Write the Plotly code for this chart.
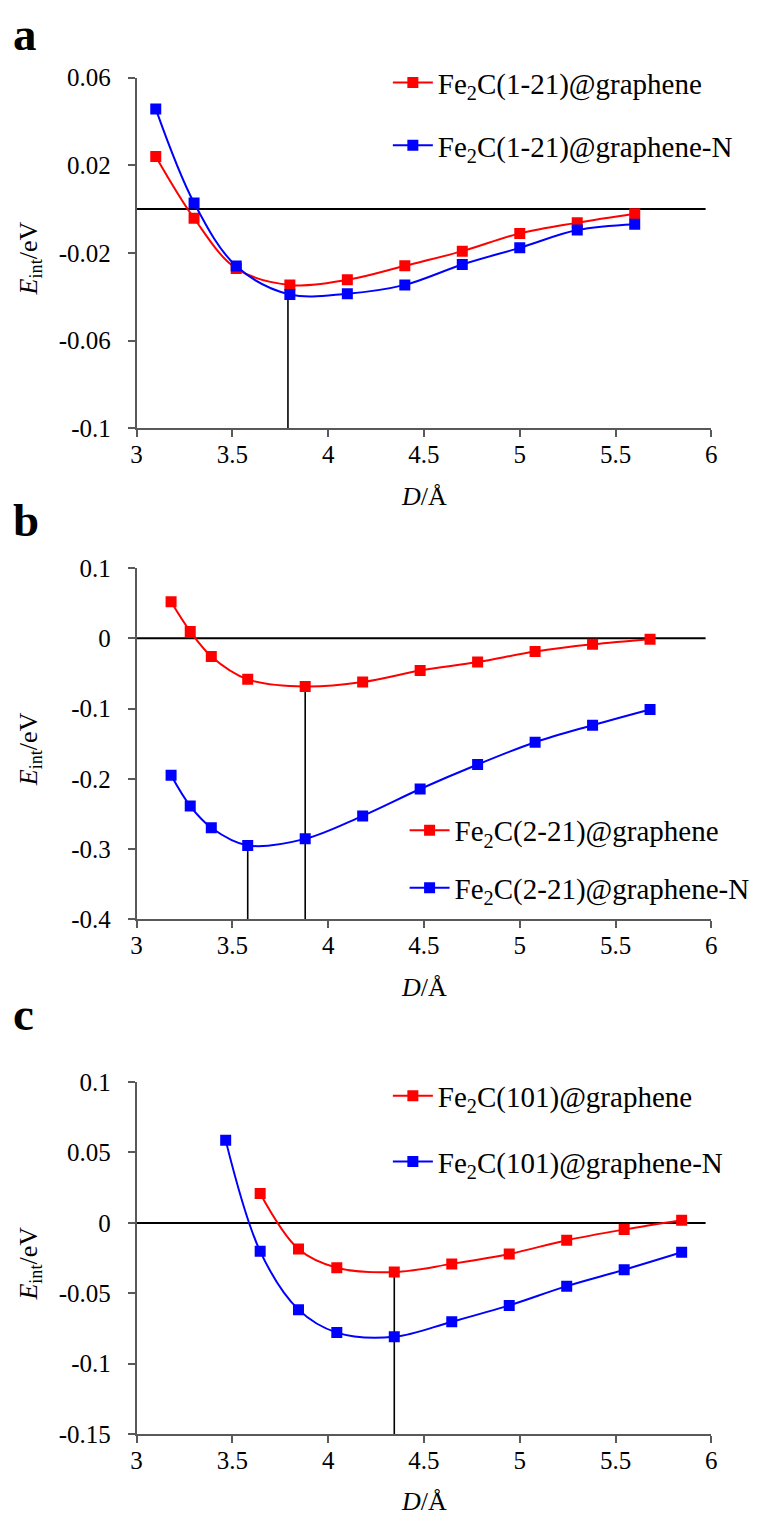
import plotly.graph_objects as go

# ---------------- data ----------------
# panel a
a_x = [3.1, 3.3, 3.52, 3.8, 4.1, 4.4, 4.7, 5.0, 5.3, 5.6]
a_red = [0.024, -0.0042, -0.0271, -0.0346, -0.0323, -0.0259, -0.0192, -0.0111, -0.0062, -0.0021]
a_blue = [0.0457, 0.0028, -0.0260, -0.0390, -0.0386, -0.0346, -0.0253, -0.0177, -0.0096, -0.0069]
a_names = ["Fe<sub>2</sub>C(1-21)@graphene", "Fe<sub>2</sub>C(1-21)@graphene-N"]
a_vline_x = [3.79]
a_vline_top = [-0.037]

# panel b
b_x = [3.18, 3.28, 3.39, 3.58, 3.88, 4.18, 4.48, 4.78, 5.08, 5.38, 5.68]
b_red = [0.052, 0.0098, -0.0258, -0.0584, -0.0687, -0.0622, -0.0459, -0.0338, -0.0189, -0.0086, -0.0012]
b_blue = [-0.195, -0.2388, -0.2695, -0.2947, -0.2854, -0.2527, -0.2145, -0.1796, -0.1479, -0.1237, -0.1013]
b_names = ["Fe<sub>2</sub>C(2-21)@graphene", "Fe<sub>2</sub>C(2-21)@graphene-N"]
b_vline_x = [3.58, 3.88]
b_vline_top = [-0.296, -0.069]

# panel c
c_red_x = [3.645, 3.845, 4.045, 4.345, 4.645, 4.945, 5.245, 5.545, 5.845]
c_red = [0.0209, -0.0186, -0.0319, -0.0349, -0.0291, -0.0221, -0.0123, -0.0047, 0.0019]
c_blue_x = [3.465, 3.645, 3.845, 4.045, 4.345, 4.645, 4.945, 5.245, 5.545, 5.845]
c_blue = [0.0586, -0.0202, -0.0616, -0.0779, -0.0809, -0.0702, -0.0586, -0.0449, -0.0333, -0.0209]
c_names = ["Fe<sub>2</sub>C(101)@graphene", "Fe<sub>2</sub>C(101)@graphene-N"]
c_vline_x = [4.345]
c_vline_top = [-0.0365]

x_ticks = [3, 3.5, 4, 4.5, 5, 5.5, 6]
x_ticktext = ["3", "3.5", "4", "4.5", "5", "5.5", "6"]
a_yticks = [0.06, 0.02, -0.02, -0.06, -0.1]
a_yticktext = ["0.06", "0.02", "-0.02", "-0.06", "-0.1"]
b_yticks = [0.1, 0, -0.1, -0.2, -0.3, -0.4]
b_yticktext = ["0.1", "0", "-0.1", "-0.2", "-0.3", "-0.4"]
c_yticks = [0.1, 0.05, 0, -0.05, -0.1, -0.15]
c_yticktext = ["0.1", "0.05", "0", "-0.05", "-0.1", "-0.15"]
a_yrange = [-0.1, 0.06]
b_yrange = [-0.4, 0.1]
c_yrange = [-0.15, 0.1]
zero_x = [3, 5.97]
zero_y = [0, 0]

# ---------------- layout helpers ----------------
W, H = 758, 1528
FONT = "'Liberation Serif', 'Times New Roman', Times, serif"
RED, BLUE = "#FF0000", "#0000FF"
AX = "#595959"


def fx(px):
    return px / W


def fy(py):
    return 1 - py / H


x_dom = [fx(132.7), fx(716.7)]
panels = [
    dict(top=65.7, bot=422.7),
    dict(top=565.0, bot=922.7),
    dict(top=1088.3, bot=1446.7),
]

fig = go.Figure()


def curve(x, y, color, name, xa, ya, legend, group):
    fig.add_trace(go.Scatter(
        x=x, y=y, mode="lines+markers", name=name,
        line=dict(color=color, width=2, shape="spline", smoothing=1.0),
        marker=dict(symbol="square", size=11, color=color),
        xaxis=xa, yaxis=ya, legend=legend, legendgroup=group,
    ))


def helpers(vx, vtop, ybot, xa, ya):
    fig.add_trace(go.Scatter(x=zero_x, y=zero_y, mode="lines",
                             line=dict(color="black", width=2),
                             xaxis=xa, yaxis=ya, showlegend=False, hoverinfo="skip"))
    for xv, tv in zip(vx, vtop):
        fig.add_trace(go.Scatter(x=[xv, xv], y=[ybot, tv], mode="lines",
                                 line=dict(color="black", width=1.6),
                                 xaxis=xa, yaxis=ya, showlegend=False, hoverinfo="skip"))


# panel a
helpers(a_vline_x, a_vline_top, a_yrange[0], "x", "y")
curve(a_x, a_red, RED, a_names[0], "x", "y", "legend", "a1")
curve(a_x, a_blue, BLUE, a_names[1], "x", "y", "legend", "a2")
# panel b
helpers(b_vline_x, b_vline_top, b_yrange[0], "x2", "y2")
curve(b_x, b_red, RED, b_names[0], "x2", "y2", "legend2", "b1")
curve(b_x, b_blue, BLUE, b_names[1], "x2", "y2", "legend2", "b2")
# panel c
helpers(c_vline_x, c_vline_top, c_yrange[0], "x3", "y3")
curve(c_red_x, c_red, RED, c_names[0], "x3", "y3", "legend3", "c1")
curve(c_blue_x, c_blue, BLUE, c_names[1], "x3", "y3", "legend3", "c2")

tickfont = dict(family=FONT, size=25, color="black")


def xaxis(anchor):
    return dict(domain=x_dom, range=[3, 6], tickvals=x_ticks, ticktext=x_ticktext,
                showline=True, linecolor=AX, linewidth=1.5, ticks="outside",
                ticklen=7, tickcolor=AX, tickwidth=1.5, showgrid=False, zeroline=False,
                tickfont=tickfont, anchor=anchor, ticklabelstandoff=-4)


def yaxis(p, rng, tv, tt, anchor):
    return dict(domain=[fy(p["bot"]), fy(p["top"])], range=rng, tickvals=tv, ticktext=tt,
                showline=True, linecolor=AX, linewidth=1.5, ticks="outside",
                ticklen=7, tickcolor=AX, tickwidth=1.5, showgrid=False, zeroline=False,
                tickfont=tickfont, anchor=anchor, ticklabelstandoff=12)


annotations = []
labels = ["a", "b", "c"]
label_base = [40, 535, 1038]
for i, p in enumerate(panels):
    mid = (p["top"] + p["bot"]) / 2
    annotations.append(dict(
        text="<i>E</i><sub>int</sub>/eV", x=fx(24), y=fy(mid + 6), xref="paper", yref="paper",
        showarrow=False, textangle=-90, font=dict(family=FONT, size=26, color="black"),
        xanchor="center", yanchor="middle"))
    annotations.append(dict(
        text="<i>D</i>/Å", x=fx(424.7), y=fy(p["bot"] + 69), xref="paper", yref="paper",
        showarrow=False, font=dict(family=FONT, size=26, color="black"),
        xanchor="center", yanchor="middle"))
    annotations.append(dict(
        text="<b>%s</b>" % labels[i], x=fx(5), y=fy(label_base[i] + 10), xref="paper",
        yref="paper", showarrow=False, font=dict(family=FONT, size=47, color="black"),
        xanchor="left", yanchor="bottom"))

legfont = dict(family=FONT, size=29, color="black")
fig.update_layout(
    width=W, height=H, autosize=False,
    font=dict(family=FONT),
    margin=dict(l=0, r=0, t=0, b=0),
    paper_bgcolor="white", plot_bgcolor="white",
    xaxis=xaxis("y"), yaxis=yaxis(panels[0], a_yrange, a_yticks, a_yticktext, "x"),
    xaxis2=xaxis("y2"), yaxis2=yaxis(panels[1], b_yrange, b_yticks, b_yticktext, "x2"),
    xaxis3=xaxis("y3"), yaxis3=yaxis(panels[2], c_yrange, c_yticks, c_yticktext, "x3"),
    legend=dict(x=fx(388), y=fy(103), xanchor="left", yanchor="middle", font=legfont,
                bgcolor="rgba(0,0,0,0)", tracegroupgap=22, itemwidth=40),
    legend2=dict(x=fx(405), y=fy(861.5), xanchor="left", yanchor="middle", font=legfont,
                 bgcolor="rgba(0,0,0,0)", tracegroupgap=17, itemwidth=40),
    legend3=dict(x=fx(388), y=fy(1136), xanchor="left", yanchor="middle", font=legfont,
                 bgcolor="rgba(0,0,0,0)", tracegroupgap=25, itemwidth=40),
    annotations=annotations,
    showlegend=True,
)

fig.write_html("out.html")
